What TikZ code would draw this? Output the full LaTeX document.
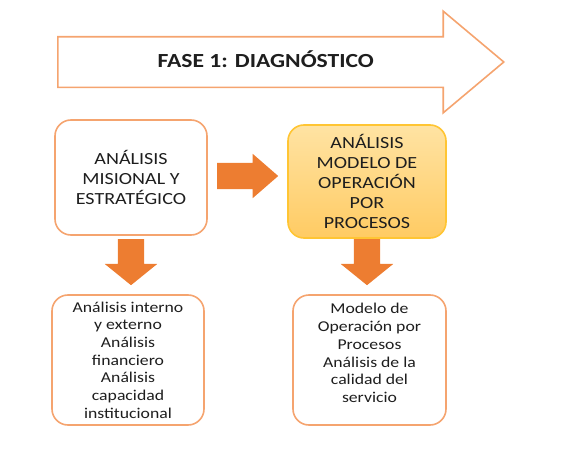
\documentclass[tikz,border=0pt]{standalone}
\usepackage{fontspec}
\setmainfont{Carlito}[FakeStretch=1.18]
\usepackage{tikz}
\usetikzlibrary{shapes,arrows,positioning}
\usepackage{xcolor}
\definecolor{naranja}{HTML}{ED7D31}
\definecolor{bordenaranja}{HTML}{F5A46F}
\definecolor{oro}{HTML}{FFC533}
\definecolor{amarilloarriba}{HTML}{FFE3A3}
\definecolor{amarilloabajo}{HTML}{FFCB63}
\definecolor{texto}{HTML}{1E1E1E}

\begin{document}
\begin{tikzpicture}[x=1pt, y=1pt,
        caja/.style={draw=bordenaranja, line width=1.6pt, rounded corners=16pt, fill=white,
            align=center, text=texto, inner sep=0pt},
        flecha/.style={single arrow, fill=naranja, draw=none, inner xsep=0pt, inner ysep=13pt,
            single arrow tip angle=102, single arrow head extend=13pt, anchor=tail}]
        \useasboundingbox (0,0) rectangle (574,-455);

        % Fase (big arrow)
        \node[single arrow, draw=bordenaranja, line width=1.6pt, fill=white, anchor=tail,
            inner xsep=0pt, inner ysep=15pt, text height=15pt, text depth=4pt,
            single arrow tip angle=80, single arrow head extend=25.5pt,
            minimum height=446pt, text=texto,
            font=\fontsize{20}{24}\selectfont\bfseries] (fase) at (57,-62) {FASE 1: DIAGNÓSTICO};

        % Top boxes
        \node[caja, minimum width=152pt, minimum height=115pt,
            font=\fontsize{17}{20}\selectfont] (mision) at (131,-177.5)
            {ANÁLISIS\\MISIONAL Y\\ESTRATÉGICO};
        \node[caja, draw=oro, top color=amarilloarriba, bottom color=amarilloabajo,
            minimum width=158pt, minimum height=113pt,
            font=\fontsize{17}{20}\selectfont] (procesos) at (367,-181.5)
            {ANÁLISIS\\MODELO DE\\OPERACIÓN\\POR\\PROCESOS};

        % Block arrows
        \node[flecha, single arrow head extend=9pt, single arrow tip angle=82,
            minimum height=61pt] (der) at (217,-176) {};
        \node[flecha, rotate=-90, minimum height=46pt] (bajaizq) at (131,-239) {};
        \node[flecha, rotate=-90, minimum height=46pt] (bajader) at (367,-239) {};

        % Bottom boxes
        \node[caja, minimum width=152pt, minimum height=130pt,
            font=\fontsize{15}{17.7}\selectfont] (internos) at (128,-360)
            {Análisis interno\\y externo\\Análisis\\financiero\\Análisis\\capacidad\\institucional};
        \node[caja, minimum width=153pt, minimum height=130pt, text depth=14pt,
            font=\fontsize{15}{17.7}\selectfont] (servicio) at (369.5,-360)
            {Modelo de\\Operación por\\Procesos\\Análisis de la\\calidad del\\servicio};
    \end{tikzpicture}
\end{document}
